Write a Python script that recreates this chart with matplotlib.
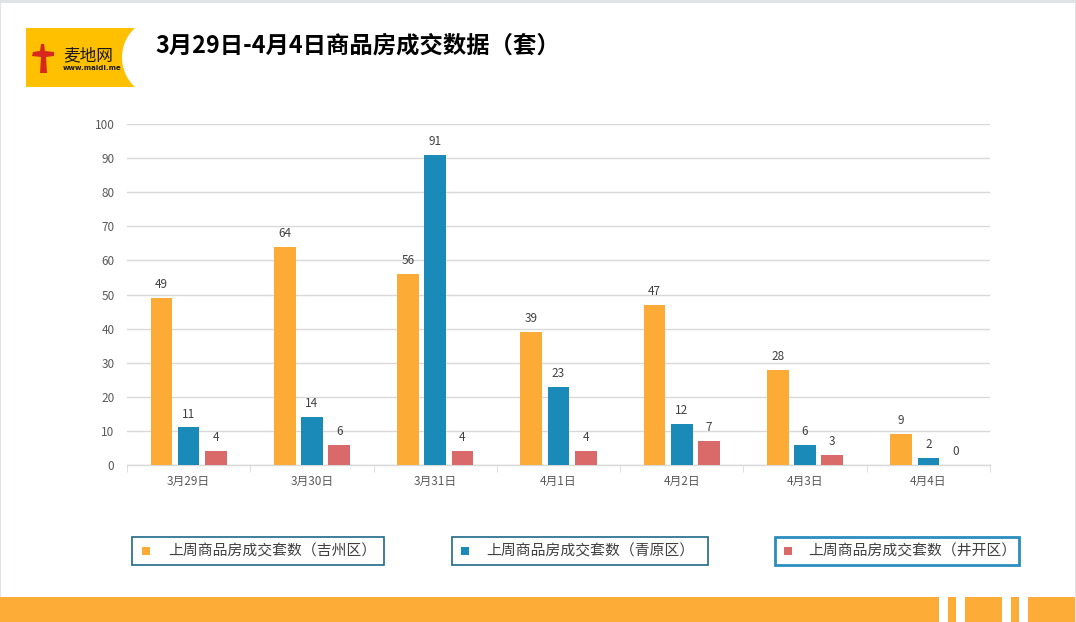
import numpy as np
import matplotlib
matplotlib.use('Agg')
import matplotlib.pyplot as plt
from matplotlib.patches import Rectangle, Circle, Polygon

plt.rcParams['font.family'] = ['Noto Sans CJK SC', 'DejaVu Sans']

# data
days = ['3月29日', '3月30日', '3月31日', '4月1日', '4月2日', '4月3日', '4月4日']
jizhou = [49, 64, 56, 39, 47, 28, 9]
qingyuan = [11, 14, 91, 23, 12, 6, 2]
jingkai = [4, 6, 4, 4, 7, 3, 0]
series_names = ['上周商品房成交套数（吉州区）', '上周商品房成交套数（青原区）', '上周商品房成交套数（井开区）']
colors = ['#FBAB36', '#1A8AB9', '#DA6A6A']
title = '3月29日-4月4日商品房成交数据（套）'

W, H = 1076, 622
fig = plt.figure(figsize=(W / 100, H / 100), dpi=100)

# background / decoration layer in pixel coords
bg = fig.add_axes([0, 0, 1, 1], zorder=0)
bg.set_xlim(0, W)
bg.set_ylim(H, 0)
bg.axis('off')

# frame edges
bg.add_patch(Rectangle((0, 0), W, 3, color='#E1E2E4', lw=0))
bg.add_patch(Rectangle((0, 0), 1.2, H, color='#E1E2E4', lw=0))
bg.add_patch(Rectangle((1074.5, 0), 2, H, color='#E1E2E4', lw=0))

# logo
bg.add_patch(Rectangle((26, 28), 110, 59, color='#FFC000', lw=0))
bg.add_patch(Circle((162, 57.5), 40, color='white', lw=0))
bg.add_patch(Polygon([(41, 44), (44, 44), (45, 51), (54, 52), (54, 56), (46, 57),
                      (47, 73), (40, 73), (41, 57), (32, 56), (33, 52), (40, 51)],
                     closed=True, color='#D8281E', lw=0))
bg.text(63, 56, '麦地网', fontsize=12, color='#1a1a1a', va='center', ha='left')
bg.text(63, 68.5, 'www.maidi.me', fontsize=5, color='#1a1a1a', va='center', ha='left',
        fontweight='bold', family='DejaVu Sans')

# title
bg.text(155, 46, title, fontsize=16.8, fontweight='bold', color='black',
        va='center', ha='left')

# legend boxes
boxes = [(132, 384, 142, 168), (452, 708, 461, 486), (775, 1019, 784, 808)]
edge = ['#1F6A87', '#1F6A87', '#2A8EC0']
lws = [1.2, 1.2, 2.0]
for (x0, x1, mx, tx), name, c, ec, lw in zip(boxes, series_names, colors, edge, lws):
    bg.add_patch(Rectangle((x0, 537), x1 - x0, 28, fill=False, ec=ec, lw=lw))
    bg.add_patch(Rectangle((mx, 547), 8, 8, color=c, lw=0))
    bg.text(tx, 551, name, fontsize=10.7, color='#404040', va='center', ha='left')

# bottom band
band = '#FDAC37'
for x0, x1 in [(0, 939), (948, 956), (965, 1002), (1011, 1019), (1028, 1075)]:
    bg.add_patch(Rectangle((x0, 597), x1 - x0, 25, color=band, lw=0))

# chart
ax = fig.add_axes([127 / W, 1 - 465 / H, (990 - 127) / W, (465 - 124) / H], zorder=1)
ax.patch.set_alpha(0)
x = np.arange(len(days))
off = 0.221
bw = 0.176
for i, (vals, c) in enumerate(zip([jizhou, qingyuan, jingkai], colors)):
    bars = ax.bar(x + (i - 1) * off, vals, bw, color=c, zorder=3)
    for b, v in zip(bars, vals):
        ax.annotate(str(v), (b.get_x() + b.get_width() / 2, v), xytext=(0, 5),
                    textcoords='offset points', ha='center', va='bottom',
                    fontsize=8.5, color='#404040')

ax.set_xlim(-0.5, len(days) - 0.5)
ax.set_ylim(0, 100)
ax.set_yticks(range(0, 101, 10))
ax.yaxis.grid(True, color='#D9D9D9', lw=1)
ax.set_axisbelow(True)
for s in ['left', 'right', 'top']:
    ax.spines[s].set_visible(False)
ax.spines['bottom'].set_color('#D9D9D9')
ax.spines['bottom'].set_linewidth(1)
ax.tick_params(axis='y', length=0, labelsize=8.5, labelcolor='#595959', pad=9)
ax.set_xticks(x)
ax.set_xticklabels(days)
ax.tick_params(axis='x', length=0, labelsize=8.5, labelcolor='#595959', pad=7)
ax.set_xticks(np.arange(-0.5, len(days), 1), minor=True)
ax.tick_params(axis='x', which='minor', length=5, color='#D9D9D9', direction='out')

fig.savefig('out.png', dpi=100)
